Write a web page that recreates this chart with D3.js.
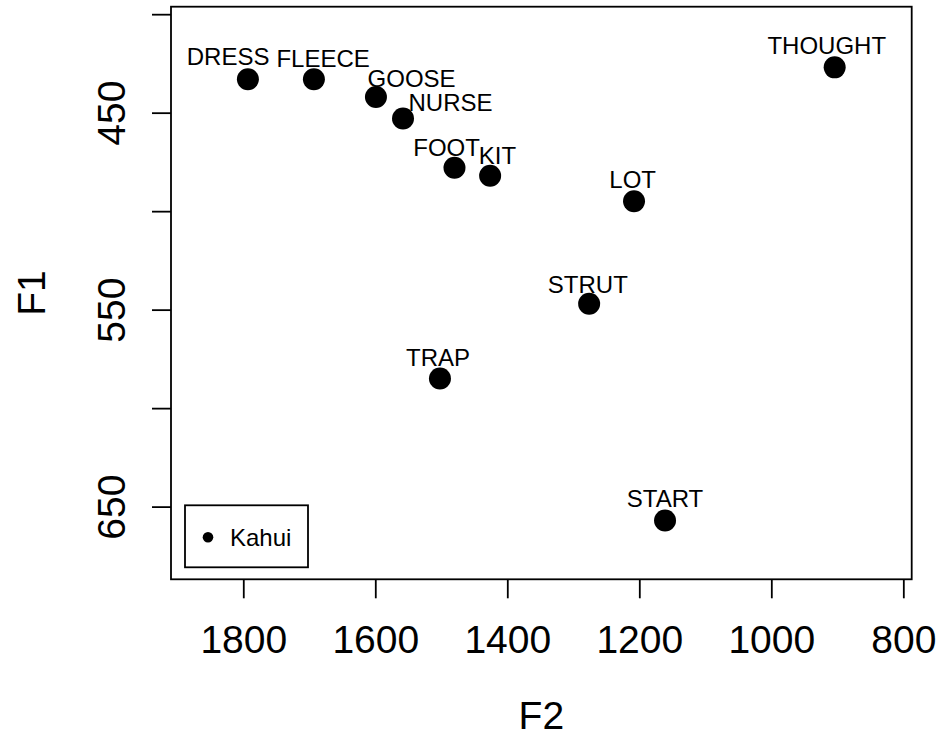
<!DOCTYPE html>
<html>
<head>
<meta charset="utf-8">
<script src="https://cdn.jsdelivr.net/npm/d3@7"></script>
<style>
  html, body { margin: 0; padding: 0; background: #fff; }
  svg { display: block; font-family: "Liberation Sans", Arial, sans-serif; }
</style>
</head>
<body>
<div id="chart"></div>
<script>
// vowel means for one speaker (F2 reversed on x, F1 reversed on y)
const vowels = ["DRESS", "FLEECE", "GOOSE", "NURSE", "FOOT", "KIT", "LOT", "STRUT", "TRAP", "START", "THOUGHT"];
const f2 = [1793, 1693, 1599, 1558, 1480, 1426, 1208, 1276, 1502, 1161, 904];
const f1 = [433, 433, 442, 453, 478, 482, 495, 547, 585, 657, 427];
// where each label was placed (data units)
const labelF2 = [1823, 1679, 1545, 1486, 1492, 1415, 1210, 1278, 1505, 1161, 916];
const labelF1 = [426, 427, 437, 449, 472, 476, 488, 541.5, 578.5, 650, 420];

const xTicks = [1800, 1600, 1400, 1200, 1000, 800];
const yTicks = [400, 450, 500, 550, 600, 650];
const yLabelled = [450, 550, 650];
const speaker = "Kahui";

const width = 952, height = 738;
const plot = { left: 171, right: 911.7, top: 6.7, bottom: 579.3 };

const data = vowels.map((v, i) => ({ vowel: v, f2: f2[i], f1: f1[i], lx: labelF2[i], ly: labelF1[i] }));

const x = d3.scaleLinear().domain([1909.5, 787.3]).range([plot.left, plot.right]);
const y = d3.scaleLinear().domain([396.2, 686.9]).range([plot.top, plot.bottom]);

const svg = d3.select("#chart").append("svg")
    .attr("width", width)
    .attr("height", height);

// x axis
svg.append("g")
    .attr("transform", `translate(0,${plot.bottom})`)
    .call(d3.axisBottom(x).tickValues(xTicks).tickSize(19).tickPadding(27).tickFormat(d3.format("d")))
    .call(g => g.select(".domain").remove())
    .call(g => g.selectAll(".tick line").attr("stroke", "#000").attr("stroke-width", 1.8))
    .call(g => g.selectAll(".tick text")
        .attr("fill", "#000")
        .attr("font-size", 39)
        .attr("font-family", "Liberation Sans, Arial, sans-serif"));

// y axis, labels rotated like base R
svg.append("g")
    .attr("transform", `translate(${plot.left},0)`)
    .call(d3.axisLeft(y).tickValues(yTicks).tickSize(19)
        .tickFormat(d => yLabelled.includes(d) ? d : ""))
    .call(g => g.select(".domain").remove())
    .call(g => g.selectAll(".tick line").attr("stroke", "#000").attr("stroke-width", 1.8))
    .call(g => g.selectAll(".tick text")
        .attr("fill", "#000")
        .attr("font-size", 39)
        .attr("font-family", "Liberation Sans, Arial, sans-serif")
        .attr("text-anchor", "middle")
        .attr("transform", "rotate(-90)")
        .attr("x", 0)
        .attr("y", -46)
        .attr("dy", null));

// plot box
svg.append("rect")
    .attr("x", plot.left)
    .attr("y", plot.top)
    .attr("width", plot.right - plot.left)
    .attr("height", plot.bottom - plot.top)
    .attr("fill", "none")
    .attr("stroke", "#000")
    .attr("stroke-width", 1.8);

// points
svg.append("g")
  .selectAll("circle")
  .data(data)
  .join("circle")
    .attr("cx", d => x(d.f2))
    .attr("cy", d => y(d.f1))
    .attr("r", 11)
    .attr("fill", "#000");

// labels
svg.append("g")
    .attr("font-size", 24)
    .attr("text-anchor", "middle")
    .attr("fill", "#000")
  .selectAll("text")
  .data(data)
  .join("text")
    .attr("x", d => x(d.lx))
    .attr("y", d => y(d.ly))
    .text(d => d.vowel);

// axis titles
svg.append("text")
    .attr("x", (plot.left + plot.right) / 2)
    .attr("y", 729)
    .attr("text-anchor", "middle")
    .attr("font-size", 39)
    .text("F2");

svg.append("text")
    .attr("transform", `translate(45,${(plot.top + plot.bottom) / 2}) rotate(-90)`)
    .attr("text-anchor", "middle")
    .attr("font-size", 39)
    .text("F1");

// legend (bottom left)
const legend = svg.append("g")
    .attr("transform", `translate(${plot.left + 14},${plot.bottom - 74})`);

legend.append("rect")
    .attr("width", 123)
    .attr("height", 62)
    .attr("fill", "#fff")
    .attr("stroke", "#000")
    .attr("stroke-width", 1.8);

legend.append("circle")
    .attr("cx", 23)
    .attr("cy", 32)
    .attr("r", 5.3)
    .attr("fill", "#000");

legend.append("text")
    .attr("x", 45)
    .attr("y", 32)
    .attr("dy", "0.35em")
    .attr("font-size", 24)
    .text(speaker);
</script>
</body>
</html>
